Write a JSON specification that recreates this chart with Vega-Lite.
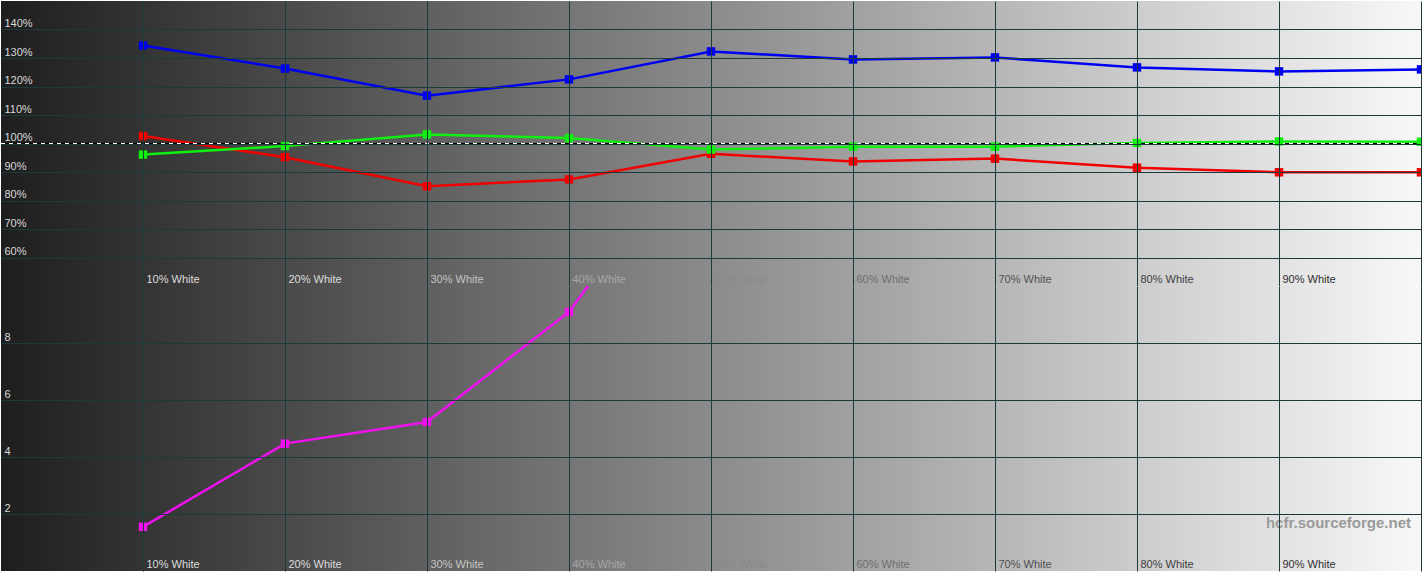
{
  "$schema": "https://vega.github.io/schema/vega-lite/v6.json",
  "padding": {"top": 1, "left": 0, "right": 3, "bottom": 3},
  "background": "#ffffff",
  "spacing": 0,
  "config": {
    "view": {"stroke": null},
    "axis": {
      "domain": false,
      "ticks": false,
      "grid": true,
      "gridColor": "#1c3a3a",
      "gridOpacity": 1,
      "gridWidth": 1,
      "labelFont": "Liberation Sans",
      "labelFontSize": 11,
      "labelColor": "#d8d8d8",
      "labelFlush": false,
      "labelOverlap": false
    }
  },
  "datasets": {
    "balance": [
      {"level": 10, "channel": "Red", "value": 102.6},
      {"level": 20, "channel": "Red", "value": 95.2},
      {"level": 30, "channel": "Red", "value": 85.0},
      {"level": 40, "channel": "Red", "value": 87.4},
      {"level": 50, "channel": "Red", "value": 96.4},
      {"level": 60, "channel": "Red", "value": 93.7},
      {"level": 70, "channel": "Red", "value": 94.7},
      {"level": 80, "channel": "Red", "value": 91.5},
      {"level": 90, "channel": "Red", "value": 89.9},
      {"level": 100, "channel": "Red", "value": 89.9},
      {"level": 10, "channel": "Green", "value": 96.1},
      {"level": 20, "channel": "Green", "value": 99.1},
      {"level": 30, "channel": "Green", "value": 103.2},
      {"level": 40, "channel": "Green", "value": 101.9},
      {"level": 50, "channel": "Green", "value": 97.9},
      {"level": 60, "channel": "Green", "value": 98.9},
      {"level": 70, "channel": "Green", "value": 98.9},
      {"level": 80, "channel": "Green", "value": 100.2},
      {"level": 90, "channel": "Green", "value": 100.7},
      {"level": 100, "channel": "Green", "value": 100.6},
      {"level": 10, "channel": "Blue", "value": 134.4},
      {"level": 20, "channel": "Blue", "value": 126.3},
      {"level": 30, "channel": "Blue", "value": 116.8},
      {"level": 40, "channel": "Blue", "value": 122.5},
      {"level": 50, "channel": "Blue", "value": 132.3},
      {"level": 60, "channel": "Blue", "value": 129.5},
      {"level": 70, "channel": "Blue", "value": 130.2},
      {"level": 80, "channel": "Blue", "value": 126.7},
      {"level": 90, "channel": "Blue", "value": 125.3},
      {"level": 100, "channel": "Blue", "value": 126.0}
    ],
    "deltaE": [
      {"level": 10, "deltaE": 1.55},
      {"level": 20, "deltaE": 4.47},
      {"level": 30, "deltaE": 5.23},
      {"level": 40, "deltaE": 9.09},
      {"level": 50, "deltaE": 15.9}
    ]
  },
  "vconcat": [
    {
      "width": 1420,
      "height": 285,
      "layer": [
        {
          "data": {"values": [{}]},
          "mark": {
            "type": "rect",
            "fill": {
              "gradient": "linear", "x1": 0, "x2": 1, "y1": 0, "y2": 0,
              "stops": [{"offset": 0, "color": "#1e1e1e"}, {"offset": 1, "color": "#f8f8f8"}]
            }
          },
          "encoding": {
            "x": {"datum": 0, "type": "quantitative"},
            "x2": {"datum": 100},
            "y": {"datum": 50, "type": "quantitative"},
            "y2": {"datum": 150}
          }
        },
        {
          "data": {"name": "balance"},
          "mark": {"type": "line", "strokeWidth": 2.5, "clip": true, "zindex": 2},
          "encoding": {
            "x": {
              "field": "level", "type": "quantitative",
              "scale": {"domain": [0, 100], "nice": false, "zero": false},
              "axis": {
                "title": null, "orient": "bottom", "zindex": 1, "tickCount": 20,
                "values": [10, 20, 30, 40, 50, 60, 70, 80, 90, 100],
                "labelExpr": "datum.value >= 100 ? '' : datum.value + '% White'",
                "labelAlign": "left", "labelBaseline": "alphabetic",
                "labelPadding": -4, "labelOffset": 3,
                "labelColor": {
                  "condition": [
                    {"test": "datum.value <= 20", "value": "#dcdcdc"},
                    {"test": "datum.value <= 30", "value": "#c4c4c4"},
                    {"test": "datum.value <= 40", "value": "#a8a8a8"},
                    {"test": "datum.value <= 50", "value": "#8a8a8a"},
                    {"test": "datum.value <= 60", "value": "#6e6e6e"},
                    {"test": "datum.value <= 70", "value": "#505050"},
                    {"test": "datum.value <= 80", "value": "#404040"}
                  ],
                  "value": "#303030"
                }
              }
            },
            "y": {
              "field": "value", "type": "quantitative",
              "scale": {"domain": [50, 150], "nice": false, "zero": false},
              "axis": {
                "title": null, "zindex": 1, "tickCount": 20,
                "values": [60, 70, 80, 90, 100, 110, 120, 130, 140],
                "labelExpr": "datum.value + '%'",
                "labelAlign": "left", "labelBaseline": "alphabetic",
                "labelPadding": -3, "labelOffset": -3
              }
            },
            "color": {
              "field": "channel", "type": "nominal",
              "scale": {"domain": ["Red", "Green", "Blue"], "range": ["#f00000", "#10f010", "#0000f0"]},
              "legend": null
            },
            "order": {"field": "level", "type": "quantitative"}
          }
        },
        {
          "data": {"values": [{}]},
          "mark": {"type": "rule", "color": "#000000", "strokeWidth": 1, "zindex": 2},
          "encoding": {"y": {"datum": 100, "type": "quantitative"}}
        },
        {
          "data": {"values": [{}]},
          "mark": {"type": "rule", "color": "#ffffff", "strokeWidth": 1, "strokeDash": [4, 4], "zindex": 2},
          "encoding": {"y": {"datum": 100, "type": "quantitative"}}
        },
        {
          "data": {"name": "balance"},
          "mark": {"type": "square", "size": 72, "filled": true, "opacity": 1, "clip": true, "zindex": 2},
          "encoding": {
            "x": {"field": "level", "type": "quantitative"},
            "y": {"field": "value", "type": "quantitative"},
            "color": {"field": "channel", "type": "nominal", "legend": null}
          }
        }
      ]
    },
    {
      "width": 1420,
      "height": 285,
      "layer": [
        {
          "data": {"values": [{}]},
          "mark": {
            "type": "rect",
            "fill": {
              "gradient": "linear", "x1": 0, "x2": 1, "y1": 0, "y2": 0,
              "stops": [{"offset": 0, "color": "#1e1e1e"}, {"offset": 1, "color": "#f8f8f8"}]
            }
          },
          "encoding": {
            "x": {"datum": 0, "type": "quantitative"},
            "x2": {"datum": 100},
            "y": {"datum": 0, "type": "quantitative"},
            "y2": {"datum": 10}
          }
        },
        {
          "data": {"name": "deltaE"},
          "mark": {"type": "line", "strokeWidth": 2.5, "color": "#f010f0", "clip": true, "zindex": 2},
          "encoding": {
            "x": {
              "field": "level", "type": "quantitative",
              "scale": {"domain": [0, 100], "nice": false, "zero": false},
              "axis": {
                "title": null, "orient": "bottom", "zindex": 1, "tickCount": 20,
                "values": [10, 20, 30, 40, 50, 60, 70, 80, 90, 100],
                "labelExpr": "datum.value >= 100 ? '' : datum.value + '% White'",
                "labelAlign": "left", "labelBaseline": "alphabetic",
                "labelPadding": -4, "labelOffset": 3,
                "labelColor": {
                  "condition": [
                    {"test": "datum.value <= 20", "value": "#dcdcdc"},
                    {"test": "datum.value <= 30", "value": "#c4c4c4"},
                    {"test": "datum.value <= 40", "value": "#a8a8a8"},
                    {"test": "datum.value <= 50", "value": "#8a8a8a"},
                    {"test": "datum.value <= 60", "value": "#6e6e6e"},
                    {"test": "datum.value <= 70", "value": "#505050"},
                    {"test": "datum.value <= 80", "value": "#404040"}
                  ],
                  "value": "#303030"
                }
              }
            },
            "y": {
              "field": "deltaE", "type": "quantitative",
              "scale": {"domain": [0, 10], "nice": false, "zero": false},
              "axis": {
                "title": null, "zindex": 1, "tickCount": 20,
                "values": [2, 4, 6, 8],
                "labelExpr": "'' + datum.value",
                "labelAlign": "left", "labelBaseline": "alphabetic",
                "labelPadding": -3, "labelOffset": -3
              }
            }
          }
        },
        {
          "data": {"name": "deltaE"},
          "mark": {"type": "square", "size": 72, "filled": true, "opacity": 1, "color": "#f010f0", "clip": true, "zindex": 2},
          "encoding": {
            "x": {"field": "level", "type": "quantitative"},
            "y": {"field": "deltaE", "type": "quantitative"}
          }
        },
        {
          "data": {"values": [{"site": "hcfr.sourceforge.net"}]},
          "mark": {"type": "text", "align": "right", "baseline": "middle", "dx": -10, "dy": -48, "font": "Liberation Sans", "fontSize": 15, "fontWeight": "bold", "color": "#9a9a9a", "zindex": 2},
          "encoding": {
            "x": {"datum": 100, "type": "quantitative"},
            "y": {"datum": 0, "type": "quantitative"},
            "text": {"field": "site"}
          }
        }
      ]
    }
  ]
}
